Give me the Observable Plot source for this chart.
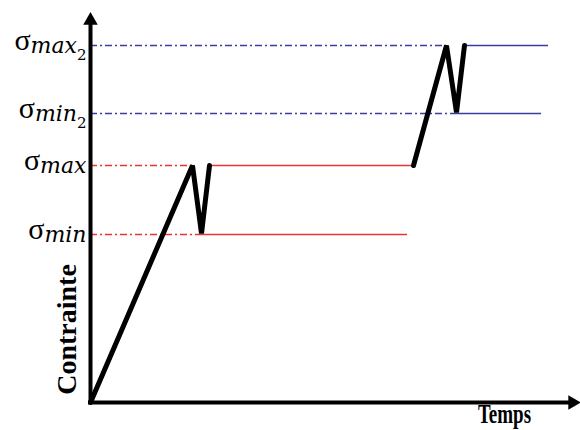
<!DOCTYPE html>
<html>
<head>
<meta charset="utf-8">
<script src="https://cdn.jsdelivr.net/npm/d3@7"></script>
<script src="https://cdn.jsdelivr.net/npm/@observablehq/plot@0.6"></script>
<style>
  html, body { margin: 0; padding: 0; background: #fff; }
  #chart svg { display: block; }
</style>
</head>
<body>
<div id="chart"></div>
<script>
// Stress levels (arbitrary units, 0 = origin)
const levelNames  = ["σ|min", "σ|max", "σ|min|2", "σ|max|2"];
const levelValues = [168, 237, 289, 357];
const levelKinds  = ["first", "first", "second", "second"];

// Loading path, first block (time, stress)
const path1Time   = [0, 102, 111, 119];
const path1Stress = [0, 237, 169, 237];
// Loading path, second block
const path2Time   = [323, 356, 366, 374];
const path2Stress = [237, 357, 290, 357];

// Dash-dot guides: from origin to where the path reaches each level
const guideEnd    = [111, 102, 366, 356];
// Solid plateaus after the path
const plateauStart = [111, 119, 366, 374];
const plateauEnd   = [317, 323, 451, 458];

const axisLabels = ["Contrainte", "Temps"];

const red = "#f33030";
const blue = "#3c3ca0";
const colorOf = k => k === "first" ? red : blue;
const serif = "'Liberation Serif', 'Times New Roman', 'DejaVu Serif', serif";
const mathItalic = "'DejaVu Serif', 'Liberation Serif', serif";

const levels = levelValues.map((v, i) => ({
  name: levelNames[i], v, kind: levelKinds[i],
  g2: guideEnd[i], p1: plateauStart[i], p2: plateauEnd[i]
}));
const path1 = path1Time.map((t, i) => ({t, s: path1Stress[i]}));
const path2 = path2Time.map((t, i) => ({t, s: path2Stress[i]}));

const chart = Plot.plot({
  width: 580,
  height: 430,
  marginLeft: 90,
  marginRight: 2,
  marginTop: 12,
  marginBottom: 28,
  x: {domain: [0, 488], axis: null},
  y: {domain: [0, 390], axis: null},
  style: {background: "white", overflow: "visible"},
  marks: [
    // dash-dot guides
    Plot.ruleY(levels, {y: "v", x1: 0, x2: "g2", stroke: d => colorOf(d.kind), strokeWidth: 1.6, strokeDasharray: "7,3,2,3"}),
    // solid plateaus
    Plot.ruleY(levels, {y: "v", x1: "p1", x2: "p2", stroke: d => colorOf(d.kind), strokeWidth: 1.6}),
    // loading path
    Plot.line(path1, {x: "t", y: "s", stroke: "black", strokeWidth: 5, strokeLinejoin: "bevel"}),
    Plot.line(path2, {x: "t", y: "s", stroke: "black", strokeWidth: 5, strokeLinejoin: "bevel"}),
    // axes
    Plot.ruleX([0], {y1: -1, y2: 380, stroke: "black", strokeWidth: 4}),
    Plot.ruleY([0], {x1: -2, x2: 482, stroke: "black", strokeWidth: 4}),
    Plot.dot([{x: 0, y: 382}], {x: "x", y: "y", symbol: "triangle", r: 5.4, fill: "black", stroke: null}),
    Plot.dot([{x: 482, y: 0}], {x: "x", y: "y", symbol: "triangle", r: 5.4, fill: "black", stroke: null, rotate: 90}),
    // level labels
    Plot.text(levels, {x: -4, y: "v", text: "name", textAnchor: "end", lineAnchor: "bottom", dy: 4, fill: "black"}),
    // axis titles
    Plot.text([axisLabels[0]], {x: -15, y: 73, text: d => d, rotate: -90, lineAnchor: "bottom", fontSize: 28, fontWeight: "bold",
      fontFamily: serif, fill: "black"}),
    Plot.text([axisLabels[1]], {x: 414, y: -21, text: d => d, lineAnchor: "bottom", fontSize: 19, fontWeight: "bold",
      fontFamily: serif, fill: "black"})
  ]
});

// Typeset sigma labels as σ with italic (math-style) subscripts
d3.select(chart).selectAll("text").each(function() {
  const txt = this.textContent;
  if (txt === axisLabels[1]) {
    // the reference draws "Temps" vertically stretched
    const cx = chart.scale("x").apply(414), by = chart.scale("y").apply(-21);
    const g = d3.select(this.parentNode).insert("g", () => this)
      .attr("transform", `translate(${cx},${by}) scale(1,1.45) translate(${-cx},${-by})`);
    g.node().appendChild(this);
    return;
  }
  if (!txt.startsWith("σ|")) return;
  const parts = txt.split("|");
  const sel = d3.select(this);
  sel.text("");
  sel.append("tspan").attr("font-family", serif).attr("font-size", 30).text(parts[0]);
  sel.append("tspan").attr("font-family", mathItalic).attr("font-style", "italic")
    .attr("font-size", 22).attr("dy", 3).text(parts[1]);
  if (parts[2]) sel.append("tspan").attr("font-family", mathItalic).attr("font-size", 15).attr("dy", 7).text(parts[2]);
});

document.getElementById("chart").appendChild(chart);
</script>
</body>
</html>
